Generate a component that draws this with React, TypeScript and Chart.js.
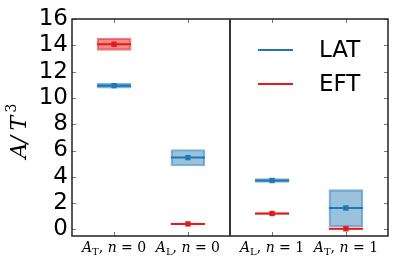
import React, { useEffect, useRef } from 'react';
import { Chart, registerables } from 'chart.js';

Chart.register(...registerables);

// ---- data ----
const categoryPositions = [0, 1, 2.14, 3.14];
const labelSymbols = ['A', 'A', 'A', 'A'];
const labelSubscripts = ['T', 'L', 'L', 'T'];
const labelN = ['0', '0', '1', '1'];

const latCenter = [10.93, 5.46, 3.72, 1.63];
const latLow = [10.75, 4.82, 3.58, 0.2];
const latHigh = [11.12, 6.08, 3.87, 3.03];

const eftCenter = [14.08, 0.42, 1.21, 0.05];
const eftLow = [13.62, 0.36, 1.15, 0.0];
const eftHigh = [14.55, 0.48, 1.27, 0.1];

const yTicks = [0, 2, 4, 6, 8, 10, 12, 14, 16];
const seriesNames = ['LAT', 'EFT'];

const X_MIN = -0.57;
const X_MAX = 3.71;
const Y_MIN = -0.5;
const Y_MAX = 16;
const PANEL_DIVIDER = 1.57;

const BLUE = 'rgb(31,119,180)';
const BLUE_FILL = 'rgba(31,119,180,0.45)';
const BLUE_EDGE = 'rgba(31,119,180,0.55)';
const RED = 'rgb(228,26,28)';
const RED_FILL = 'rgba(228,26,28,0.5)';
const RED_EDGE = 'rgba(228,26,28,0.55)';

const SERIF = '"DejaVu Serif", serif';
const SANS = '"DejaVu Sans", sans-serif';

type Part = { t: string; font: string; dy: number };

function drawParts(ctx: CanvasRenderingContext2D, parts: Part[], cx: number, baseY: number) {
  let total = 0;
  const widths = parts.map((p) => {
    ctx.font = p.font;
    const w = ctx.measureText(p.t).width;
    total += w;
    return w;
  });
  let x = cx - total / 2;
  parts.forEach((p, i) => {
    ctx.font = p.font;
    ctx.fillText(p.t, x, baseY + p.dy);
    x += widths[i];
  });
}

const decorPlugin = {
  id: 'decor',
  afterDatasetsDraw(chart: any) {
    const { ctx, chartArea: a, scales } = chart;
    const xs = scales.x;
    const ys = scales.y;
    ctx.save();

    // inward ticks
    ctx.strokeStyle = '#777';
    ctx.lineWidth = 1;
    const L = 4;
    ctx.beginPath();
    yTicks.forEach((v) => {
      const py = Math.round(ys.getPixelForValue(v)) + 0.5;
      ctx.moveTo(a.left, py);
      ctx.lineTo(a.left + L, py);
      ctx.moveTo(a.right, py);
      ctx.lineTo(a.right - L, py);
    });
    categoryPositions.forEach((v) => {
      const px = Math.round(xs.getPixelForValue(v)) + 0.5;
      ctx.moveTo(px, a.bottom);
      ctx.lineTo(px, a.bottom - L);
      ctx.moveTo(px, a.top);
      ctx.lineTo(px, a.top + L);
    });
    ctx.stroke();

    // frame
    ctx.strokeStyle = '#222';
    ctx.lineWidth = 1.5;
    ctx.strokeRect(a.left, a.top, a.right - a.left, a.bottom - a.top);

    // panel divider
    const dx = xs.getPixelForValue(PANEL_DIVIDER);
    ctx.strokeStyle = '#333';
    ctx.lineWidth = 2;
    ctx.beginPath();
    ctx.moveTo(dx, a.top);
    ctx.lineTo(dx, a.bottom);
    ctx.stroke();

    // legend
    const legendColors = [BLUE, RED];
    seriesNames.forEach((name, i) => {
      const ly = a.top + 31 + i * 34;
      ctx.strokeStyle = legendColors[i];
      ctx.lineWidth = 2;
      ctx.beginPath();
      ctx.moveTo(a.right - 130, ly);
      ctx.lineTo(a.right - 95, ly);
      ctx.stroke();
      ctx.fillStyle = '#000';
      ctx.font = `23px ${SANS}`;
      ctx.textBaseline = 'middle';
      ctx.textAlign = 'left';
      ctx.fillText(name, a.right - 69, ly + 1);
    });

    // x category labels
    ctx.fillStyle = '#000';
    ctx.textBaseline = 'alphabetic';
    ctx.textAlign = 'left';
    categoryPositions.forEach((v, i) => {
      const px = xs.getPixelForValue(v);
      const parts: Part[] = [
        { t: labelSymbols[i], font: `italic 14px ${SERIF}`, dy: 0 },
        { t: labelSubscripts[i], font: `10px ${SERIF}`, dy: 3 },
        { t: ', ', font: `14px ${SERIF}`, dy: 0 },
        { t: 'n', font: `italic 14px ${SERIF}`, dy: 0 },
        { t: ' = ', font: `14px ${SERIF}`, dy: 0 },
        { t: labelN[i], font: `14px ${SERIF}`, dy: 0 },
      ];
      drawParts(ctx, parts, px, a.bottom + 15.5);
    });

    // y axis title  A/T^3
    ctx.save();
    const cy = (a.top + a.bottom) / 2 + 3.5;
    ctx.translate(26, cy);
    ctx.rotate(-Math.PI / 2);
    const glyphs = [
      { t: 'A', font: `italic 22px ${SERIF}`, x: 0, dy: 0 },
      { t: '/', font: `italic 22px ${SERIF}`, x: 15, dy: 0 },
      { t: 'T', font: `italic 22px ${SERIF}`, x: 28, dy: 0 },
      { t: '3', font: `14px ${SERIF}`, x: 46, dy: -10 },
    ];
    const span = 55;
    glyphs.forEach((g) => {
      ctx.font = g.font;
      ctx.fillText(g.t, g.x - span / 2, g.dy);
    });
    ctx.restore();

    ctx.restore();
  },
};

export default function App() {
  const ref = useRef<HTMLCanvasElement>(null);

  useEffect(() => {
    document.body.style.margin = '0';
    Chart.defaults.font.family = SANS;
    const toBand = (lo: number[], hi: number[]) =>
      categoryPositions.map((x, i) => ({ x, y: [lo[i], hi[i]] }));
    const toPts = (c: number[]) => categoryPositions.map((x, i) => ({ x, y: c[i] }));

    const chart = new Chart(ref.current as HTMLCanvasElement, {
      type: 'bar',
      data: {
        datasets: [
          {
            type: 'bar',
            label: 'LAT band',
            data: toBand(latLow, latHigh) as any,
            backgroundColor: BLUE_FILL,
            borderColor: BLUE_EDGE,
            borderWidth: 1.5,
            borderSkipped: false,
            grouped: false,
            maxBarThickness: 34,
            barPercentage: 1,
            categoryPercentage: 1,
            order: 6,
          },
          {
            type: 'line',
            label: 'LAT',
            data: toPts(latCenter) as any,
            showLine: false,
            pointStyle: 'line',
            pointRadius: 17,
            pointHoverRadius: 17,
            pointBorderWidth: 2,
            pointBorderColor: BLUE,
            order: 5,
          },
          {
            type: 'line',
            label: 'LAT marker',
            data: toPts(latCenter) as any,
            showLine: false,
            pointStyle: 'rect',
            pointRadius: 3.8,
            pointBorderWidth: 0,
            pointBackgroundColor: BLUE,
            order: 4,
          },
          {
            type: 'bar',
            label: 'EFT band',
            data: toBand(eftLow, eftHigh) as any,
            backgroundColor: RED_FILL,
            borderColor: RED_EDGE,
            borderWidth: 1.5,
            borderSkipped: false,
            grouped: false,
            maxBarThickness: 34,
            barPercentage: 1,
            categoryPercentage: 1,
            order: 3,
          },
          {
            type: 'line',
            label: 'EFT',
            data: toPts(eftCenter) as any,
            showLine: false,
            pointStyle: 'line',
            pointRadius: 17,
            pointHoverRadius: 17,
            pointBorderWidth: 2,
            pointBorderColor: RED,
            order: 2,
          },
          {
            type: 'line',
            label: 'EFT marker',
            data: toPts(eftCenter) as any,
            showLine: false,
            pointStyle: 'rect',
            pointRadius: 3.8,
            pointBorderWidth: 0,
            pointBackgroundColor: RED,
            order: 1,
          },
        ] as any,
      },
      options: {
        animation: false,
        responsive: false,
        devicePixelRatio: 1,
        layout: { padding: { top: 17, right: 9, bottom: 28, left: 0 } },
        plugins: { legend: { display: false }, tooltip: { enabled: false } },
        events: [],
        scales: {
          x: {
            type: 'linear',
            display: false,
            min: X_MIN,
            max: X_MAX,
            offset: false,
            afterBuildTicks: (s: any) => {
              s.ticks = categoryPositions.map((v) => ({ value: v }));
            },
          },
          y: {
            type: 'linear',
            min: Y_MIN,
            max: Y_MAX,
            grid: { display: false, drawTicks: false },
            border: { display: false },
            ticks: {
              color: '#000',
              padding: 4,
              autoSkip: false,
              font: { size: 23, family: SANS },
            },
            afterBuildTicks: (s: any) => {
              s.ticks = yTicks.map((v) => ({ value: v }));
            },
            afterFit: (s: any) => {
              s.width = 72;
            },
          },
        },
      } as any,
      plugins: [decorPlugin],
    });
    return () => chart.destroy();
  }, []);

  return (
    <div style={{ width: 407, height: 264 }}>
      <canvas ref={ref} width={407} height={264} style={{ display: 'block', width: 407, height: 264 }} />
    </div>
  );
}
